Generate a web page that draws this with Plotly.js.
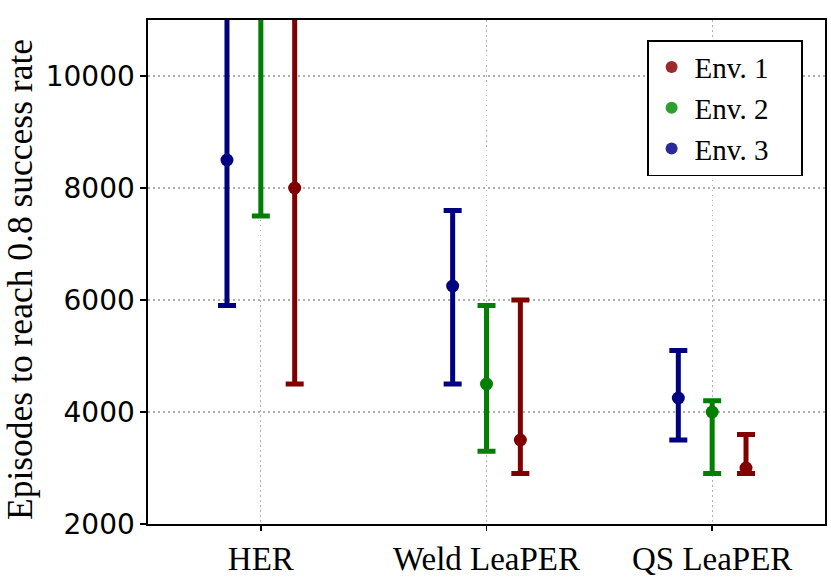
<!DOCTYPE html>
<html><head><meta charset="utf-8">
<script src="https://cdn.plot.ly/plotly-3.0.1.min.js"></script>
<style>html,body{margin:0;padding:0;background:#fff}#c{width:831px;height:584px}</style>
</head><body><div id="c"></div>
<script>
const categories = ["HER", "Weld LeaPER", "QS LeaPER"];
const envNames = ["Env. 1", "Env. 2", "Env. 3"];
// means and asymmetric errors (upper = plus, lower = minus) per env, per category
const env1Mean = [8000, 3500, 3000];
const env1Plus = [3500, 2500, 600];
const env1Minus = [3500, 600, 100];
const env2Mean = [11500, 4500, 4000];
const env2Plus = [1000, 1400, 200];
const env2Minus = [4000, 1200, 1100];
const env3Mean = [8500, 6250, 4250];
const env3Plus = [2600, 1350, 850];
const env3Minus = [2600, 1750, 750];
const yTicks = [2000, 4000, 6000, 8000, 10000];
const yTitle = "Episodes to reach 0.8 success rate";

const colors = ["#800000", "#008000", "#000080"];
const legendColors = ["#9b2a2a", "#2ca02c", "#2a2a9b"];
const offsets = [0.15, 0, -0.15];
const means = [env1Mean, env2Mean, env3Mean];
const pluses = [env1Plus, env2Plus, env3Plus];
const minuses = [env1Minus, env2Minus, env3Minus];

const traces = [];
[2, 1, 0].forEach(i => {
  traces.push({
    type: "scatter", mode: "markers",
    x: categories.map((c, k) => k + offsets[i]),
    y: means[i],
    marker: {color: colors[i], size: 13},
    error_y: {type: "data", symmetric: false, array: pluses[i], arrayminus: minuses[i],
      color: colors[i], thickness: 5, width: 9},
    showlegend: false, hoverinfo: "skip"
  });
});
[0, 1, 2].forEach(i => {
  traces.push({
    type: "scatter", mode: "markers", x: [null], y: [null],
    name: envNames[i] + "\u00A0\u00A0\u00A0\u2009",
    marker: {color: legendColors[i], size: 12}
  });
});

const serif = "Liberation Serif, Times New Roman, serif";
const layout = {
  width: 831, height: 584,
  margin: {l: 148, r: 6, t: 20, b: 60},
  paper_bgcolor: "#fff", plot_bgcolor: "#fff",
  xaxis: {
    range: [-0.5, 2.5], tickvals: [0, 1, 2], ticktext: categories,
    showgrid: true, gridcolor: "#b0b0b0", griddash: "1.5px,3.5px", gridwidth: 1.3,
    showline: true, linecolor: "#000", linewidth: 1.6, mirror: true,
    ticks: "outside", ticklen: 5, tickwidth: 1.4, tickcolor: "#000",
    tickfont: {family: serif, size: 33, color: "#000"},
    zeroline: false
  },
  yaxis: {
    range: [2000, 11000], tickvals: yTicks, ticktext: yTicks.map(String),
    showgrid: true, gridcolor: "#b0b0b0", griddash: "1.5px,3.5px", gridwidth: 1.3,
    showline: true, linecolor: "#000", linewidth: 1.6, mirror: true,
    ticks: "outside", ticklen: 6, tickwidth: 1.4, tickcolor: "#000",
    tickfont: {family: "DejaVu Sans, sans-serif", size: 28, color: "#000"},
    zeroline: false
  },
  annotations: [{
    text: yTitle, xref: "paper", yref: "paper",
    x: (20 - 148) / 677, y: (524 - 280) / 504, xanchor: "center", yanchor: "middle",
    textangle: -90, showarrow: false,
    font: {family: serif, size: 35.5, color: "#000"}
  }],
  legend: {
    x: 0.9675, xanchor: "right", y: 0.96, yanchor: "top",
    bgcolor: "#fff", bordercolor: "#000", borderwidth: 1.6,
    font: {family: serif, size: 29, color: "#000"},
    itemwidth: 36, traceorder: "normal"
  },
  showlegend: true
};
Plotly.newPlot("c", traces, layout, {displayModeBar: false, staticPlot: true});
</script></body></html>
